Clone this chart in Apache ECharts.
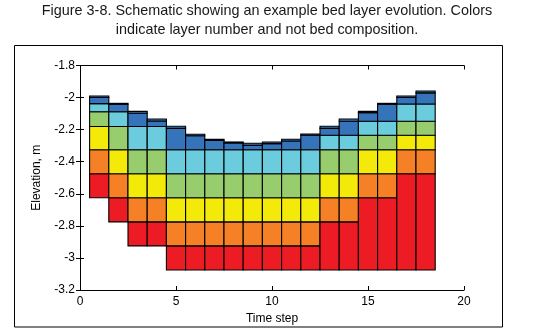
<!DOCTYPE html>
<html>
<head>
<meta charset="utf-8">
<script src="https://cdn.jsdelivr.net/npm/echarts@6/dist/echarts.min.js"></script>
<style>
html,body{margin:0;padding:0;background:#fff;}
#chart{width:534px;height:331px;}
</style>
</head>
<body>
<div id="chart"></div>
<script>
// Time steps
var timeSteps = [1,2,3,4,5,6,7,8,9,10,11,12,13,14,15,16,17,18];
// Layer boundaries (elevation, m) per time step, from bottom upwards
var bedBottom = [-2.625,-2.775,-2.925,-2.925,-3.075,-3.075,-3.075,-3.075,-3.075,-3.075,-3.075,-3.075,-3.075,-3.075,-3.075,-3.075,-3.075,-3.075];
var redTop    = [-2.475,-2.625,-2.775,-2.775,-2.925,-2.925,-2.925,-2.925,-2.925,-2.925,-2.925,-2.925,-2.775,-2.775,-2.625,-2.625,-2.475,-2.475];
var orangeTop = [-2.325,-2.475,-2.625,-2.625,-2.775,-2.775,-2.775,-2.775,-2.775,-2.775,-2.775,-2.775,-2.625,-2.625,-2.475,-2.475,-2.325,-2.325];
var yellowTop = [-2.180,-2.325,-2.475,-2.475,-2.625,-2.625,-2.625,-2.625,-2.625,-2.625,-2.625,-2.625,-2.475,-2.475,-2.325,-2.325,-2.235,-2.235];
var greenTop  = [-2.088,-2.180,-2.325,-2.325,-2.475,-2.475,-2.475,-2.475,-2.475,-2.475,-2.475,-2.475,-2.325,-2.325,-2.235,-2.235,-2.148,-2.148];
var cyanTop   = [-2.038,-2.088,-2.180,-2.180,-2.325,-2.325,-2.325,-2.325,-2.325,-2.325,-2.325,-2.325,-2.235,-2.235,-2.148,-2.148,-2.040,-2.040];
var blueTop   = [-2.000,-2.042,-2.098,-2.146,-2.192,-2.238,-2.267,-2.283,-2.298,-2.287,-2.271,-2.235,-2.192,-2.148,-2.094,-2.042,-2.000,-1.971];
var capTop    = [-1.990,-2.036,-2.086,-2.134,-2.179,-2.229,-2.260,-2.277,-2.285,-2.277,-2.260,-2.227,-2.179,-2.134,-2.086,-2.036,-1.990,-1.959];
// x / y axis ticks
var xTicks = [0,5,10,15,20];
var yTicks = [-3.2,-3,-2.8,-2.6,-2.4,-2.2,-2,-1.8];
var titleLines = ['Figure 3-8. Schematic showing an example bed layer evolution. Colors',
                  'indicate layer number and not bed composition.'];

var layerColors = ['#ED1C24','#F58025','#F4EA0A','#97CD6C','#6ACCDC','#3574BB','#3574BB'];
var layers = [bedBottom, redTop, orangeTop, yellowTop, greenTop, cyanTop, blueTop, capTop];

var cells = [];
for (var i = 0; i < timeSteps.length; i++) {
  for (var k = 0; k < layers.length - 1; k++) {
    var b = layers[k][i], t = layers[k+1][i];
    if (t > b) cells.push([timeSteps[i], b, t, k]);
  }
}

var chart = echarts.init(document.getElementById('chart'), null, {renderer:'canvas'});
var font = 'Liberation Sans, Arial, sans-serif';
var titleStyle = {fontFamily: font, fontSize: 14.4, fontWeight: 'normal', fill: '#1a1718', align: 'center', verticalAlign: 'middle'};
var option = {
  backgroundColor: '#fff',
  animation: false,
  graphic: [{
    type: 'rect', z: -1, silent: true,
    shape: {x: 14.5, y: 45.5, width: 488, height: 281.5},
    style: {fill: 'none', stroke: '#000', lineWidth: 1}
  },{
    type: 'text', silent: true, x: 267, y: 11,
    style: Object.assign({text: titleLines[0]}, titleStyle)
  },{
    type: 'text', silent: true, x: 267, y: 30,
    style: Object.assign({text: titleLines[1]}, titleStyle)
  }],
  grid: {left: 80, right: 70, top: 65.5, bottom: 41, containLabel: false},
  xAxis: [{
    type: 'value', min: 0, max: 20, interval: 5,
    name: 'Time step', nameLocation: 'middle', nameGap: 22,
    nameTextStyle: {fontFamily: font, fontSize: 12, color: '#000'},
    axisLine: {show: true, lineStyle: {color: '#000', width: 1}},
    axisTick: {show: true, inside: true, length: 4, lineStyle: {color: '#000'}},
    axisLabel: {fontFamily: font, fontSize: 12, color: '#000', margin: 6,
      formatter: function(v){ return xTicks.indexOf(v) >= 0 ? String(v) : ''; }},
    splitLine: {show: false}
  },{
    type: 'value', position: 'top', min: 0, max: 20, interval: 5,
    axisLine: {show: true, lineStyle: {color: '#000', width: 1}},
    axisTick: {show: true, inside: true, length: 4, lineStyle: {color: '#000'}},
    axisLabel: {show: false}, splitLine: {show: false}
  }],
  yAxis: [{
    type: 'value', min: -3.2, max: -1.8, interval: 0.2,
    name: 'Elevation, m', nameLocation: 'middle', nameGap: 37, nameRotate: 90,
    nameTextStyle: {fontFamily: font, fontSize: 12, color: '#000'},
    axisLine: {show: true, lineStyle: {color: '#000', width: 1}},
    axisTick: {show: true, inside: true, length: 4, lineStyle: {color: '#000'}},
    axisLabel: {fontFamily: font, fontSize: 12, color: '#000', margin: 5,
      formatter: function(v){
        var r = Math.round(v*10)/10;
        for (var j = 0; j < yTicks.length; j++) if (Math.abs(yTicks[j]-r) < 1e-6) return String(yTicks[j]);
        return '';
      }},
    splitLine: {show: false}
  },{
    type: 'value', position: 'right', min: -3.2, max: -1.8, interval: 0.2,
    axisLine: {show: true, lineStyle: {color: '#000', width: 1}},
    axisTick: {show: true, inside: true, length: 4, lineStyle: {color: '#000'}},
    axisLabel: {show: false}, splitLine: {show: false}
  }],
  series: [{
    type: 'custom',
    xAxisIndex: 0, yAxisIndex: 0,
    data: cells,
    renderItem: function(params, api) {
      var t = api.value(0), b = api.value(1), tp = api.value(2), k = api.value(3);
      var p0 = api.coord([t - 0.5, tp]);
      var p1 = api.coord([t + 0.5, b]);
      return {
        type: 'rect',
        shape: {x: p0[0], y: p0[1], width: p1[0] - p0[0], height: p1[1] - p0[1]},
        style: {fill: layerColors[k], stroke: '#000', lineWidth: 1.1}
      };
    }
  }]
};
chart.setOption(option);
</script>
</body>
</html>
